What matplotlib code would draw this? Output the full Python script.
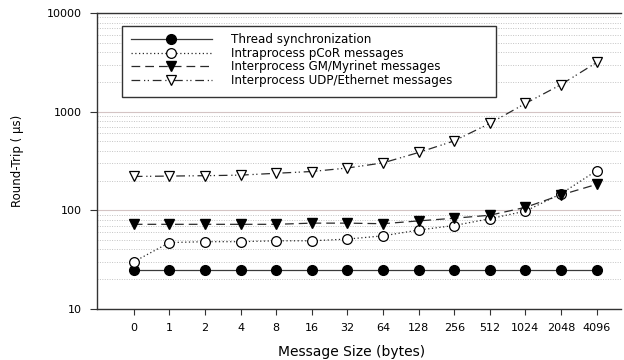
import matplotlib
matplotlib.use("Agg")
import matplotlib.pyplot as plt
from matplotlib.patches import Rectangle
from matplotlib.ticker import LogLocator, NullFormatter, FixedLocator

# the reference looks horizontally stretched, so use the wider DejaVu face
plt.rcParams['font.family'] = ['DejaVu Sans']

# Message sizes (categorical x axis)
sizes = ['0', '1', '2', '4', '8', '16', '32', '64', '128', '256', '512', '1024', '2048', '4096']

# Round-trip times in microseconds
thread_sync = [25, 25, 25, 25, 25, 25, 25, 25, 25, 25, 25, 25, 25, 25]
pcor_msgs = [30, 47, 48, 48, 49, 49, 51, 55, 63, 70, 82, 98, 147, 252]
gm_msgs = [72, 72, 72, 72, 72, 74, 74, 73, 78, 83, 89, 107, 143, 183]
udp_msgs = [220, 222, 224, 227, 237, 247, 268, 302, 385, 505, 760, 1210, 1880, 3150]

labels = ['Thread synchronization',
          'Intraprocess pCoR messages',
          'Interprocess GM/Myrinet messages',
          'Interprocess UDP/Ethernet messages']

x = list(range(len(sizes)))

fig = plt.figure(figsize=(6.24, 3.6), dpi=100)
ax = fig.add_axes([0.155, 0.142, 0.84, 0.822])

line_col = '#2a2a2a'
ax.plot(x, thread_sync, linestyle='-', color='#3a3a3a', lw=0.9,
        marker='o', ms=7, mfc='black', mec='black', label=labels[0], zorder=3)
ax.plot(x, pcor_msgs, linestyle=(0, (1, 2)), color=line_col, lw=0.9,
        marker='o', ms=7, mfc='white', mec='black', mew=0.9, label=labels[1], zorder=3)
ax.plot(x, gm_msgs, linestyle=(0, (7, 4)), color=line_col, lw=0.9,
        marker='v', ms=7, mfc='black', mec='black', label=labels[2], zorder=3)
ax.plot(x, udp_msgs, linestyle=(0, (7, 3, 1, 2, 1, 3)), color=line_col, lw=0.9,
        marker='v', ms=7.5, mfc='white', mec='black', mew=0.9, label=labels[3], zorder=3)

ax.set_yscale('log')
ax.set_ylim(10, 10000)
ax.set_xlim(-1.04, 13.68)

ax.xaxis.set_major_locator(FixedLocator(x))
ax.set_xticklabels(sizes, fontsize=8)
ax.yaxis.set_major_locator(FixedLocator([10, 100, 1000, 10000]))
ax.set_yticklabels(['10', '100', '1000', '10000'], fontsize=8)
ax.yaxis.set_minor_locator(LogLocator(base=10, subs=range(2, 10)))
ax.yaxis.set_minor_formatter(NullFormatter())

ax.tick_params(axis='x', which='major', length=4, width=0.8, color='#333333', pad=6)
ax.tick_params(axis='y', which='major', length=5, width=0.8, color='#333333', pad=6)
ax.tick_params(axis='y', which='minor', length=0)

ax.grid(True, axis='y', which='major', color='#d4c4c4', lw=0.8, linestyle='-')
ax.grid(True, axis='y', which='minor', color='#c4c4c4', lw=0.7, linestyle=(0, (1, 1.5)))
ax.set_axisbelow(True)

for s in ['left', 'bottom', 'top']:
    ax.spines[s].set_color('#333333')
    ax.spines[s].set_linewidth(1.0)
ax.spines['right'].set_visible(False)

ax.set_xlabel('Message Size (bytes)', fontsize=10)
ax.xaxis.set_label_coords(0.487, -0.122)
ax.set_ylabel('Round-Trip ( \u00b5s)', fontsize=8.5)
ax.yaxis.set_label_coords(-0.138, 0.5)

# legend box is wider than its text in the reference, so draw the frame separately
box = Rectangle((0.048, 0.716), 0.713, 0.240, transform=ax.transAxes,
                facecolor='white', edgecolor='#333333', lw=1.0, zorder=4)
ax.add_patch(box)
leg = ax.legend(loc='upper left', bbox_to_anchor=(0.048, 0.962), fontsize=8.6,
                handlelength=6.8, handletextpad=1.6, labelspacing=0.05,
                borderpad=0.75, frameon=False, borderaxespad=0)
leg.set_zorder(5)

fig.savefig('out.png', dpi=100, facecolor='white')
